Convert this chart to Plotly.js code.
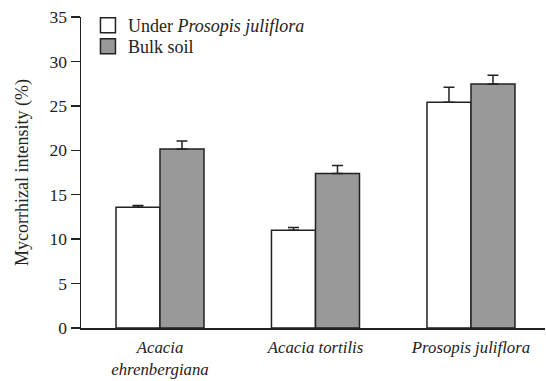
<!DOCTYPE html>
<html>
<head>
<meta charset="utf-8">
<script src="https://cdn.plot.ly/plotly-3.0.1.min.js"></script>
<style>html,body{margin:0;padding:0;background:#fff;}#chart{width:546px;height:381px;}</style>
</head>
<body>
<div id="chart"></div>
<script>
const categories = ["<i>Acacia</i><br><i>ehrenbergiana</i>", "<i>Acacia tortilis</i>", "<i>Prosopis juliflora</i>"];
const underValues = [13.6, 11.0, 25.4];
const underErrors = [0.2, 0.3, 1.7];
const bulkValues = [20.15, 17.4, 27.45];
const bulkErrors = [0.9, 0.9, 1.0];
const seriesNames = ["Under <i>Prosopis juliflora</i>", "Bulk soil"];
const seriesColors = ["#ffffff", "#999999"];
const yTicks = [0, 5, 10, 15, 20, 25, 30, 35];

const xIdx = [0, 1, 2];
const fam = "Liberation Serif, Times New Roman, serif";
const font = {family: fam, size: 17.5, color: "#222"};
const xFont = {family: fam, size: 16.8, color: "#222"};
const legFont = {family: fam, size: 18, color: "#222"};

const traces = [
  {
    type: "bar", x: xIdx, y: underValues, name: seriesNames[0], showlegend: false,
    marker: {color: seriesColors[0], line: {color: "#222", width: 1.5}},
    error_y: {type: "data", symmetric: false, array: underErrors, arrayminus: [0,0,0], color: "#222", thickness: 1.5, width: 5.5}
  },
  {
    type: "bar", x: xIdx, y: bulkValues, name: seriesNames[1], showlegend: false,
    marker: {color: seriesColors[1], line: {color: "#222", width: 1.5}},
    error_y: {type: "data", symmetric: false, array: bulkErrors, arrayminus: [0,0,0], color: "#222", thickness: 1.5, width: 5.5}
  },
  {
    type: "scatter", mode: "markers", x: [null], y: [null], name: seriesNames[0], legend: "legend",
    marker: {symbol: "square", size: 15, color: seriesColors[0], line: {color: "#222", width: 1.5}}
  },
  {
    type: "scatter", mode: "markers", x: [null], y: [null], name: seriesNames[1], legend: "legend2",
    marker: {symbol: "square", size: 15, color: seriesColors[1], line: {color: "#222", width: 1.5}}
  }
];

const layout = {
  width: 546, height: 381,
  margin: {l: 81, r: 1, t: 17, b: 53},
  paper_bgcolor: "#fff", plot_bgcolor: "#fff",
  font: font,
  barmode: "group", bargap: 0.434, bargroupgap: 0,
  showlegend: true,
  legend: {x: 0.015, y: 0.9727, xanchor: "left", yanchor: "middle", bgcolor: "rgba(0,0,0,0)", font: legFont, itemwidth: 30},
  legend2: {x: 0.015, y: 0.905, xanchor: "left", yanchor: "middle", bgcolor: "rgba(0,0,0,0)", font: legFont, itemwidth: 30},
  xaxis: {
    range: [-0.508, 2.476], tickmode: "array", tickvals: xIdx, ticktext: categories,
    showline: true, linecolor: "#222", linewidth: 1.5, ticks: "", showgrid: false, zeroline: false,
    tickfont: xFont, fixedrange: true, ticklabelstandoff: 3
  },
  yaxis: {
    range: [0, 35], tickmode: "array", tickvals: yTicks,
    showline: true, linecolor: "#222", linewidth: 1.5, ticks: "outside", ticklen: 9, tickwidth: 1.5, tickcolor: "#222",
    showgrid: false, zeroline: false, tickfont: font,
    title: {text: "Mycorrhizal intensity (%)", font: {family: fam, size: 18, color: "#222"}, standoff: 16}
  }
};

Plotly.newPlot("chart", traces, layout, {displayModeBar: false, staticPlot: true});
</script>
</body>
</html>
